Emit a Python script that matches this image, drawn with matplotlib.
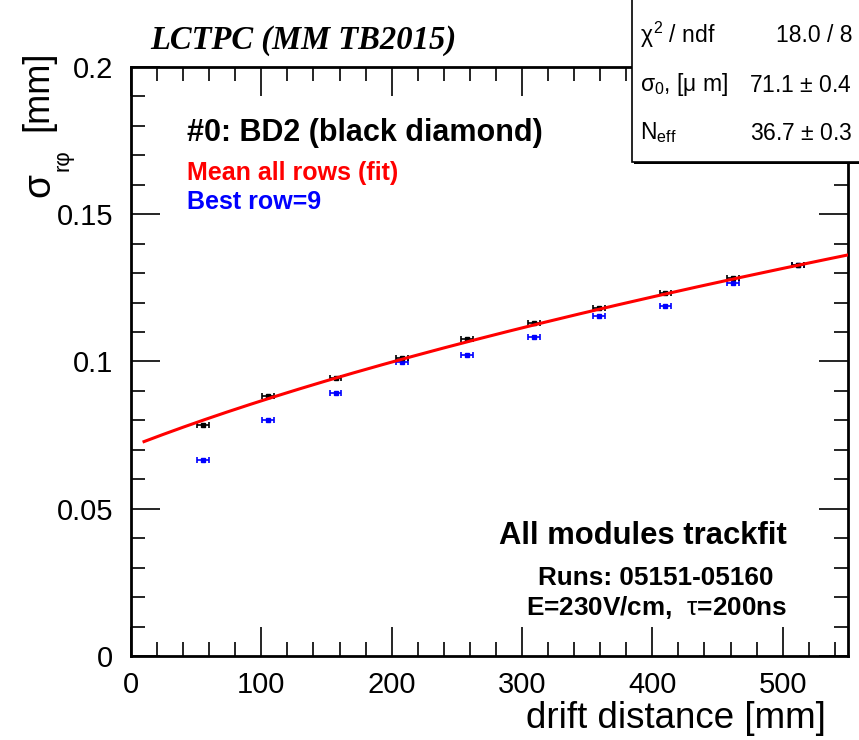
import numpy as np
import matplotlib.pyplot as plt
from matplotlib.ticker import MultipleLocator
from matplotlib.patches import Rectangle

plt.rcParams['font.family'] = ['Liberation Sans', 'DejaVu Sans']
plt.rcParams['mathtext.fontset'] = 'custom'
plt.rcParams['mathtext.rm'] = 'Liberation Sans'
plt.rcParams['mathtext.it'] = 'Liberation Sans'
plt.rcParams['mathtext.bf'] = 'Liberation Sans:bold'

# drift distance [mm] and resolution [mm]
drift = [55, 105, 157, 208, 258, 309, 359, 410, 462, 512]
sigma_mean = [0.0784, 0.0882, 0.0943, 0.1013, 0.1075, 0.1130, 0.1181, 0.1232, 0.1285, 0.1329]
sigma_best = [0.0664, 0.0801, 0.0893, 0.0999, 0.1021, 0.1082, 0.1155, 0.1190, 0.1265, 0.1326]
drift_err = 4.5

# fit parameters: sigma^2 = sigma0^2 + D^2 z / Neff
sigma0 = 0.0711
n_eff = 36.7
diff_coef = 0.0300
fit_range = (10, 550)

fig = plt.figure(figsize=(8.59, 7.40), dpi=100)
ax = fig.add_axes([0.1525, 0.1135, 0.8345, 0.796])

z = np.linspace(fit_range[0], fit_range[1], 300)
ax.plot(z, np.sqrt(sigma0**2 + diff_coef**2 * z / n_eff), color='#ff0000', lw=2.2, zorder=3)

ax.errorbar(drift, sigma_best, xerr=drift_err, fmt='s', ms=2.5, color='#0000ff',
            elinewidth=1.2, capsize=2, capthick=1.2, zorder=2)
ax.errorbar(drift, sigma_mean, xerr=drift_err, fmt='s', ms=2.5, color='black',
            elinewidth=1.2, capsize=2, capthick=1.2, zorder=2)

ax.set_xlim(0, 550)
ax.set_ylim(0, 0.2)
ax.xaxis.set_major_locator(MultipleLocator(100))
ax.xaxis.set_minor_locator(MultipleLocator(20))
ax.yaxis.set_minor_locator(MultipleLocator(0.01))
ax.set_yticks([0, 0.05, 0.1, 0.15, 0.2])
ax.set_yticklabels(['0', '0.05', '0.1', '0.15', '0.2'])
ax.tick_params(which='both', direction='in', top=True, right=True, labelsize=21, width=1.2)
ax.tick_params(which='major', length=21)
ax.tick_params(which='minor', length=10)
ax.tick_params(axis='y', which='major', pad=13)
ax.tick_params(axis='x', which='major', pad=11)
for s in ax.spines.values():
    s.set_linewidth(2)

fig.text(826 / 859, 1 - 718 / 740, 'drift distance [mm]', fontsize=26.5, ha='right', va='center')

# y title: sigma with a lowered r-phi subscript, then the unit
fig.text(39 / 859, 1 - 185 / 740, 'σ', fontsize=28, rotation=90, ha='center', va='center')
fig.text(63 / 859, 1 - 160 / 740, 'rφ', fontsize=16, rotation=90, ha='center', va='center')
fig.text(38 / 859, 1 - 91 / 740, '[mm]', fontsize=26, rotation=90, ha='center', va='center')

fig.text(150 / 859, 1 - 40 / 740, 'LCTPC (MM TB2015)', family='Liberation Serif', style='italic',
         weight='bold', fontsize=23.5, va='center')

ax.text(0.078, 0.888, '#0: BD2 (black diamond)', transform=ax.transAxes,
        fontsize=22, weight='bold', va='center')
ax.text(0.078, 0.820, 'Mean all rows (fit)', transform=ax.transAxes,
        fontsize=18, weight='bold', color='#ff0000', va='center')
ax.text(0.078, 0.770, 'Best row=9', transform=ax.transAxes,
        fontsize=18, weight='bold', color='#0000ff', va='center')

ax.text(0.915, 0.204, 'All modules trackfit', transform=ax.transAxes,
        fontsize=22.3, weight='bold', ha='right', va='center')
ax.text(0.896, 0.132, 'Runs: 05151-05160', transform=ax.transAxes,
        fontsize=18.8, weight='bold', ha='right', va='center')
ax.text(0.915, 0.082, r'E=230V/cm,  $\tau$=200ns', transform=ax.transAxes,
        fontsize=18.8, weight='bold', ha='right', va='center')

# statistics box in the top right corner
bx0, by0 = 632 / 859, 1 - 162 / 740
fig.patches.append(Rectangle((bx0 + 0.002, by0 - 0.0025), 1, 1, transform=fig.transFigure,
                             facecolor='black', edgecolor='none', zorder=9))
fig.patches.append(Rectangle((bx0, by0), 1, 1, transform=fig.transFigure,
                             facecolor='white', edgecolor='black', lw=1.2, zorder=10))
rows = [(r'$\chi^{2}$ / ndf', '18.0 / 8', 1 - 35 / 740),
        (r'$\sigma_{0}$, [$\mu$ m]', r'71.1 $\pm$ 0.4', 1 - 85 / 740),
        (r'N$_{\mathrm{eff}}$', r'36.7 $\pm$ 0.3', 1 - 133 / 740)]
for name, val, yy in rows:
    fig.text(0.745, yy, name, fontsize=16.5, va='center', zorder=11)
    fig.text(0.992, yy, val, fontsize=16.5, va='center', ha='right', zorder=11)

fig.savefig('out.png', dpi=100)
